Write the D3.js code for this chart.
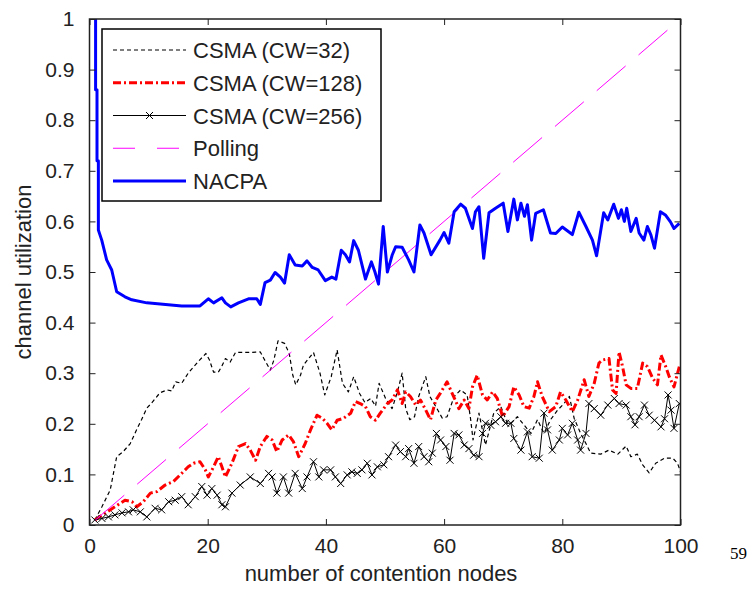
<!DOCTYPE html>
<html>
<head>
<meta charset="utf-8">
<script src="https://cdn.jsdelivr.net/npm/d3@7"></script>
<style>
  body { margin: 0; background: #fff; }
  svg { display: block; }
  text { font-family: "Liberation Sans", Arial, Helvetica, sans-serif; fill: #222; }
</style>
</head>
<body>
<svg id="chart" width="750" height="589"></svg>
<script>
// values, [x, y] pairs
var csma32 = [[0.9,0.01],[2.1,0.036],[3.5,0.069],[4.6,0.135],[5.7,0.145],[6.9,0.161],[8,0.189],[8.8,0.208],
  [9.7,0.231],[10.5,0.241],[11.9,0.261],[13.1,0.267],[13.9,0.265],[14.6,0.283],[15.6,0.28],[16.7,0.3],
  [18.4,0.323],[19.7,0.339],[20.3,0.326],[21,0.302],[21.8,0.302],[22.4,0.314],[23,0.329],[23.8,0.322],
  [24.7,0.341],[26.9,0.341],[28.9,0.342],[29.5,0.329],[30.6,0.306],[31.2,0.326],[31.9,0.364],[33,0.359],
  [33.8,0.339],[34.4,0.296],[34.9,0.277],[35.7,0.296],[36.2,0.316],[37.9,0.341],[39,0.3],[39.8,0.257],
  [40.9,0.293],[41.9,0.346],[42.8,0.28],[43.8,0.263],[44.7,0.293],[45.7,0.26],[46.6,0.242],[47.6,0.25],
  [48.4,0.235],[49,0.28],[50.1,0.25],[51.2,0.23],[52.1,0.263],[52.9,0.3],[53.5,0.23],[54.2,0.208],
  [55,0.214],[55.7,0.254],[56.9,0.293],[57.6,0.254],[58.6,0.234],[59.7,0.211],[60.5,0.214],[61.7,0.254],
  [62.8,0.267],[63.9,0.257],[64.5,0.208],[64.9,0.168],[65.9,0.221],[67,0.158],[68.4,0.221],[69.6,0.234],
  [70.7,0.201],[71.3,0.201],[72.4,0.214],[73.5,0.198],[74.7,0.181],[75.8,0.208],[76.9,0.181],[78,0.208],
  [79.2,0.227],[80.3,0.24],[81.2,0.254],[82,0.211],[83.1,0.181],[84,0.161],[84.8,0.142],[86.5,0.14],
  [87.9,0.148],[89.4,0.14],[90.8,0.156],[91.6,0.135],[92.7,0.14],[93.6,0.119],[94.7,0.103],[95.8,0.122],
  [97.3,0.132],[98.7,0.132],[99.5,0.122],[100,0.105]];

var csma128 = [[0.9,0.01],[2.6,0.023],[4.3,0.036],[6,0.049],[7.2,0.046],[8,0.036],[9.1,0.046],[10.3,0.063],
  [11.4,0.066],[12.8,0.079],[14.2,0.086],[15.6,0.102],[16.7,0.115],[17.6,0.122],[18.7,0.125],[19.6,0.109],
  [20.1,0.095],[21,0.115],[21.8,0.135],[22.4,0.115],[23,0.095],[24.1,0.122],[25.2,0.155],[26.4,0.161],
  [27.2,0.148],[28.1,0.128],[28.9,0.155],[30,0.175],[30.9,0.168],[31.7,0.145],[32.6,0.168],[33.7,0.178],
  [34.5,0.165],[35.4,0.135],[36.5,0.161],[37.4,0.188],[38.5,0.217],[39.4,0.211],[40.2,0.201],[41,0.188],
  [41.9,0.207],[43,0.211],[44.2,0.221],[45,0.244],[45.8,0.24],[46.7,0.234],[47.5,0.214],[48.4,0.207],
  [49.2,0.221],[50.4,0.24],[51.2,0.247],[52.1,0.267],[52.9,0.24],[53.5,0.263],[54.3,0.254],[55.2,0.237],
  [56,0.247],[56.9,0.227],[57.7,0.208],[58.6,0.247],[59.4,0.261],[60.5,0.283],[61.1,0.267],[62,0.244],
  [62.5,0.23],[63.4,0.247],[64.2,0.23],[64.8,0.273],[65.6,0.296],[66.5,0.257],[67.3,0.247],[68.2,0.263],
  [69,0.25],[69.9,0.214],[71,0.234],[71.8,0.273],[72.7,0.257],[73.5,0.234],[74.4,0.231],[75.2,0.254],
  [75.8,0.283],[76.6,0.254],[77.8,0.224],[78.9,0.234],[79.7,0.263],[80.6,0.247],[81.7,0.224],[82.6,0.247],
  [83.7,0.287],[84.5,0.254],[85.4,0.28],[86.2,0.32],[86.8,0.326],[87.9,0.329],[88.5,0.267],[89.1,0.26],
  [89.6,0.342],[90.2,0.313],[90.8,0.277],[91.6,0.27],[92.7,0.27],[93.6,0.32],[94.4,0.313],[95.3,0.29],
  [96.1,0.277],[96.7,0.336],[97.5,0.313],[98.1,0.293],[98.9,0.273],[99.8,0.313]];

var csma256 = [[0.9,0.01],[2.1,0.013],[3.2,0.016],[4.3,0.02],[5.5,0.024],[6.6,0.026],[7.4,0.03],[8.6,0.026],
  [9.7,0.016],[11.1,0.033],[12.2,0.03],[13.4,0.046],[14.5,0.049],[15.6,0.056],[16.7,0.04],[17.9,0.056],
  [19,0.076],[19.9,0.059],[20.7,0.072],[21.6,0.059],[22.4,0.04],[23,0.036],[24.1,0.063],[25.5,0.079],
  [27.2,0.095],[28.9,0.082],[30.3,0.102],[30.9,0.095],[31.7,0.063],[32.8,0.095],[33.7,0.063],[34.8,0.102],
  [36,0.072],[36.8,0.095],[37.9,0.125],[38.8,0.095],[39.6,0.109],[40.8,0.109],[41.6,0.095],[42.5,0.082],
  [43.6,0.099],[44.4,0.105],[45.3,0.102],[46.1,0.109],[47,0.122],[47.8,0.099],[48.7,0.115],[49.8,0.119],
  [50.6,0.135],[51.8,0.158],[52.6,0.145],[53.5,0.135],[54,0.151],[54.9,0.122],[55.7,0.155],[56.6,0.135],
  [57.4,0.125],[58,0.142],[58.7,0.181],[59.4,0.168],[60.3,0.155],[61,0.128],[61.7,0.181],[62.5,0.178],
  [63.4,0.158],[64.2,0.151],[65,0.138],[65.9,0.135],[66.5,0.181],[67,0.201],[67.9,0.197],[68.7,0.204],
  [69.6,0.214],[70.4,0.201],[71.3,0.201],[71.8,0.171],[73,0.148],[74.1,0.184],[74.9,0.135],[76.1,0.132],
  [76.9,0.221],[77.5,0.188],[78.3,0.148],[79.5,0.168],[80,0.191],[80.9,0.178],[81.7,0.201],[82.6,0.168],
  [83.1,0.148],[84,0.181],[84.5,0.24],[85.4,0.23],[86.5,0.217],[87.7,0.237],[88.8,0.25],[89.6,0.24],
  [90.8,0.237],[91.6,0.214],[92.3,0.198],[93,0.214],[93.9,0.237],[94.7,0.217],[95.6,0.207],[96.7,0.194],
  [97.3,0.21],[97.9,0.257],[98.4,0.227],[98.9,0.191],[99.8,0.24]];

var polling = [[1,0.01],[100,1]];

var nacpa = [[1.03,1.0],[1.03,0.86],[1.27,0.86],[1.27,0.72],[1.5,0.72],[1.5,0.583],[2.07,0.563],[2.9,0.524],
  [3.76,0.504],[4.6,0.461],[6,0.451],[7.15,0.445],[9.7,0.439],[15.6,0.433],[18.7,0.433],[20.1,0.447],
  [21,0.439],[22.4,0.449],[23,0.439],[23.9,0.431],[25.2,0.439],[26.9,0.447],[28.3,0.447],[28.9,0.436],
  [29.7,0.479],[30.6,0.484],[31.4,0.499],[32.3,0.49],[33,0.478],[33.8,0.534],[34.8,0.514],[36,0.512],
  [36.8,0.522],[37.7,0.509],[38.7,0.504],[39.9,0.483],[41,0.49],[41.7,0.486],[42.6,0.543],[43.3,0.534],
  [44,0.52],[44.7,0.562],[45.5,0.543],[46.7,0.486],[47.7,0.52],[48.3,0.5],[48.9,0.476],[49.7,0.59],
  [50.4,0.5],[51.2,0.533],[51.8,0.55],[52.9,0.549],[54,0.524],[54.9,0.5],[55.9,0.593],[56.6,0.577],
  [57.8,0.534],[59.3,0.563],[60,0.578],[60.8,0.557],[61.7,0.619],[62.8,0.634],[63.6,0.626],[64.8,0.586],
  [65.3,0.619],[65.9,0.629],[66.7,0.527],[67.6,0.617],[68.7,0.626],[70,0.636],[70.8,0.58],[71.8,0.644],
  [72.4,0.603],[73,0.636],[73.6,0.61],[74.1,0.633],[74.8,0.563],[75.5,0.616],[76.8,0.623],[78,0.577],
  [78.9,0.576],[80,0.589],[81.7,0.574],[82.8,0.618],[84,0.59],[85.1,0.563],[85.8,0.532],[87,0.617],
  [87.7,0.603],[88.7,0.634],[89.5,0.606],[90,0.623],[90.5,0.6],[90.9,0.626],[91.6,0.58],[92.5,0.606],
  [93,0.577],[93.8,0.563],[94.4,0.59],[95,0.573],[95.6,0.547],[96.6,0.619],[97.5,0.612],[98.3,0.599],
  [98.9,0.586],[99.8,0.596]];

var xTicks = [0, 20, 40, 60, 80, 100];
var yTicks = [0, 0.1, 0.2, 0.3, 0.4, 0.5, 0.6, 0.7, 0.8, 0.9, 1];
var legendLabels = ["CSMA (CW=32)", "CSMA (CW=128)", "CSMA (CW=256)", "Polling", "NACPA"];

// plot box in pixels (window.top is read-only, so no "top" here)
var plotLeft = 89.5, plotRight = 680.5, plotTop = 19, plotBottom = 525;

var svg = d3.select("#chart");

var x = d3.scaleLinear().domain([0, 100]).range([plotLeft, plotRight]);
var y = d3.scaleLinear().domain([0, 1]).range([plotBottom, plotTop]);

svg.append("defs").append("clipPath").attr("id", "plotclip")
  .append("rect").attr("x", plotLeft).attr("y", plotTop)
  .attr("width", plotRight - plotLeft).attr("height", plotBottom - plotTop);

var line = d3.line().x(function(d) { return x(d[0]); }).y(function(d) { return y(d[1]); });

// series styles (MATLAB-ish)
var series = [
  { data: csma32,  color: "#000", width: 1.2, dash: "4,3" },
  { data: csma128, color: "#ff0000", width: 3, dash: "8,3,2,3" },
  { data: csma256, color: "#000", width: 1, dash: null, marker: true },
  { data: polling, color: "#ff00ff", width: 1, dash: "38,17" },
  { data: nacpa,   color: "#0000ff", width: 3, dash: null }
];

var plot = svg.append("g").attr("clip-path", "url(#plotclip)");

function xMark(cx, cy, r) {
  return "M" + (cx - r) + "," + (cy - r) + "L" + (cx + r) + "," + (cy + r) +
         "M" + (cx - r) + "," + (cy + r) + "L" + (cx + r) + "," + (cy - r);
}

series.forEach(function(s) {
  plot.append("path")
    .datum(s.data)
    .attr("d", line)
    .attr("fill", "none")
    .attr("stroke", s.color)
    .attr("stroke-width", s.width)
    .attr("stroke-dasharray", s.dash)
    .attr("stroke-linejoin", "round");
  if (s.marker) {
    plot.selectAll(null)
      .data(s.data)
      .enter().append("path")
      .attr("d", function(d) { return xMark(x(d[0]), y(d[1]), 3.5); })
      .attr("stroke", s.color)
      .attr("stroke-width", 1);
  }
});

// axes: ticks inside, on all four sides
var axisColor = "#222";
var tickLen = 6;

function styleLabels(g) {
  g.select(".domain").remove();
  g.selectAll("line").attr("stroke", axisColor);
  g.selectAll("text").attr("font-size", 21).attr("fill", "#222");
}

svg.append("g").attr("transform", "translate(0," + plotBottom + ")")
  .call(d3.axisBottom(x).tickValues(xTicks).tickSizeInner(-tickLen).tickSizeOuter(0).tickPadding(13))
  .call(styleLabels);

svg.append("g").attr("transform", "translate(0," + plotTop + ")")
  .call(d3.axisTop(x).tickValues(xTicks).tickSizeInner(-tickLen).tickSizeOuter(0).tickFormat(""))
  .call(styleLabels);

svg.append("g").attr("transform", "translate(" + plotLeft + ",0)")
  .call(d3.axisLeft(y).tickValues(yTicks).tickSizeInner(-tickLen).tickSizeOuter(0).tickPadding(15)
    .tickFormat(function(d) { return d === 0 || d === 1 ? d3.format("d")(d) : d3.format(".1f")(d); }))
  .call(styleLabels);

svg.append("g").attr("transform", "translate(" + plotRight + ",0)")
  .call(d3.axisRight(y).tickValues(yTicks).tickSizeInner(-tickLen).tickSizeOuter(0).tickFormat(""))
  .call(styleLabels);

svg.append("rect")
  .attr("x", plotLeft).attr("y", plotTop)
  .attr("width", plotRight - plotLeft).attr("height", plotBottom - plotTop)
  .attr("fill", "none").attr("stroke", axisColor).attr("stroke-width", 1.5);

// axis labels
svg.append("text")
  .attr("x", (plotLeft + plotRight) / 2 - 4).attr("y", 581)
  .attr("text-anchor", "middle").attr("font-size", 22)
  .text("number of contention nodes");

svg.append("text")
  .attr("transform", "translate(31,272) rotate(-90)")
  .attr("text-anchor", "middle").attr("font-size", 22)
  .text("channel utilization");

// legend
var legend = svg.append("g");
legend.append("rect")
  .attr("x", 102).attr("y", 29).attr("width", 279).attr("height", 172)
  .attr("fill", "#fff").attr("stroke", "#000").attr("stroke-width", 1.5);

var legendDash = ["4,3", "8,3,2,3", null, "22,22", null];
var rowY = d3.scaleLinear().domain([0, 4]).range([50, 181]);

legendLabels.forEach(function(label, i) {
  var s = series[i];
  var ly = rowY(i);
  legend.append("line")
    .attr("x1", 113).attr("x2", 186).attr("y1", ly).attr("y2", ly)
    .attr("stroke", s.color).attr("stroke-width", s.width)
    .attr("stroke-dasharray", legendDash[i]);
  if (s.marker) {
    legend.append("path")
      .attr("d", xMark(149.5, ly, 3.5))
      .attr("stroke", s.color).attr("stroke-width", 1);
  }
  legend.append("text")
    .attr("x", 193).attr("y", ly + 8)
    .attr("font-size", 22)
    .text(label);
});

// page number from the scanned document (style beats the css rule)
svg.append("text")
  .attr("x", 730).attr("y", 559)
  .style("font-family", "'Liberation Serif', 'Times New Roman', serif")
  .style("fill", "#000")
  .attr("font-size", 17)
  .text("59");
</script>
</body>
</html>
